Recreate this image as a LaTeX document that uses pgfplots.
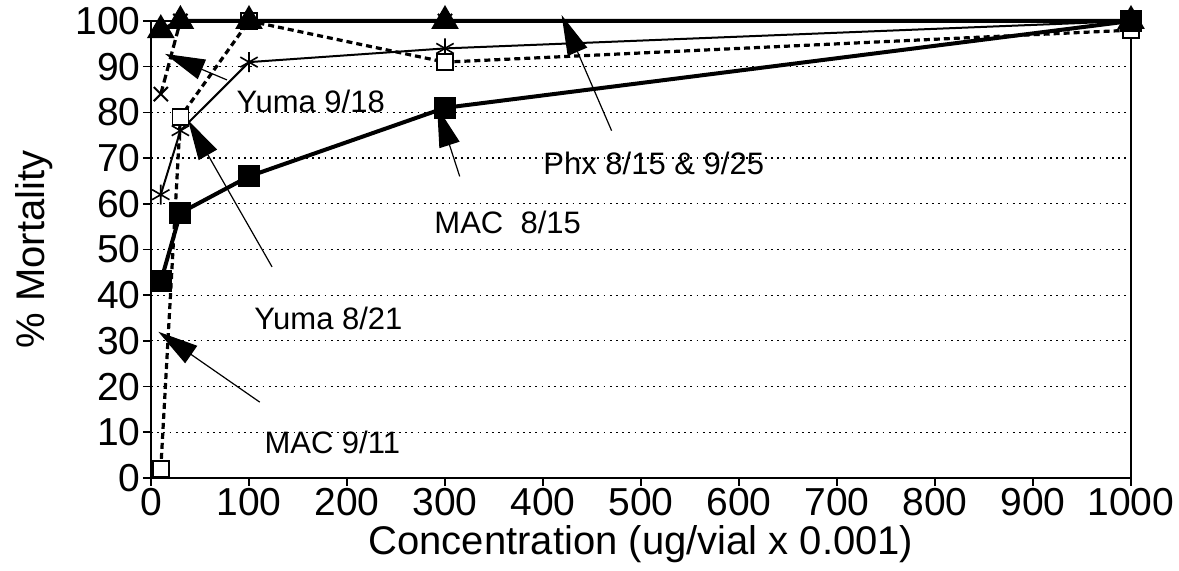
\documentclass[border=0pt]{standalone}
\usepackage{pgfplots}
\pgfplotsset{compat=1.18}
\usetikzlibrary{arrows.meta}
\usepackage{fontspec}
\setmainfont{Liberation Sans}

\begin{document}
\begin{tikzpicture}
\begin{axis}[
  scale only axis, width=490pt, height=228.5pt,
  xmin=0, xmax=1000, ymin=0, ymax=100,
  xtick={0,100,...,1000}, ytick={0,10,...,100},
  tick align=outside, tick pos=left,
  major tick length=4pt,
  axis line style={line width=1pt},
  every tick/.style={black, line width=0.8pt},
  ymajorgrids, grid style={black, line width=0.6pt, dash pattern=on 0.9pt off 2.2pt},
  tick label style={font=\fontsize{19.5}{22}\selectfont, inner sep=1pt},
  /pgf/number format/assume math mode=true,
  /pgf/number format/1000 sep={},
  label style={font=\fontsize{20}{24}\selectfont},
  xlabel={Concentration (ug/vial x 0.001)},
  ylabel={\% Mortality},
  ylabel shift=7pt,
  clip=false,
]
% Yuma 8/21
\addplot[black, line width=1pt, mark=asterisk, mark size=5pt, mark options={solid, line width=0.8pt}]
  coordinates {(10,62) (30,76) (100,91) (300,94) (1000,100)};
% Yuma 9/18
\addplot[black, line width=1.6pt, dash pattern=on 4pt off 2pt, mark=x, mark size=5pt, mark options={solid, line width=1pt}]
  coordinates {(10,84) (30,100) (100,100) (300,100) (1000,100)};
% MAC 9/11
\addplot[black, line width=1.6pt, dash pattern=on 3pt off 2pt, mark=square*, mark size=4pt, mark options={solid, fill=white, line width=0.8pt}]
  coordinates {(10,2) (30,79) (100,100) (300,91) (1000,98)};
% Phx 8/15 & 9/25
\addplot[black, line width=2pt, mark=triangle*, mark size=6pt, mark options={solid, fill=black}]
  coordinates {(10,98) (30,100) (100,100) (300,100) (1000,100)};
% MAC 8/15
\addplot[black, line width=2pt, mark=square*, mark size=4.5pt, mark options={solid, fill=black}]
  coordinates {(10,43) (30,58) (100,66) (300,81) (1000,100)};

\tikzset{ann/.style={black, line width=0.6pt, -{Triangle[length=20pt,width=10.5pt]}},
         annt/.style={font=\fontsize{15.5}{18}\selectfont}}
\draw[ann] (axis cs:77.6,87.1) -- (axis cs:14.3,92.8);
\draw[ann] (axis cs:123.5,46.2) -- (axis cs:37.8,78.3);
\draw[ann] (axis cs:111,16.6) -- (axis cs:7.5,32);
\draw[ann] (axis cs:315,66) -- (axis cs:292,81.2);
\draw[ann] (axis cs:470,76) -- (axis cs:419,101.3);
\node[annt] at (axis cs:163,82.5) {Yuma 9/18};
\node[annt] at (axis cs:181,35) {Yuma 8/21};
\node[annt] at (axis cs:185,7.7) {MAC 9/11};
\node[annt] at (axis cs:364,56) {MAC~~8/15};
\node[annt] at (axis cs:513,68.9) {Phx 8/15 \& 9/25};
\end{axis}
\pgfresetboundingbox
\useasboundingbox (-75.5pt,-46.5pt) rectangle (514pt,239pt);
\end{tikzpicture}
\end{document}
